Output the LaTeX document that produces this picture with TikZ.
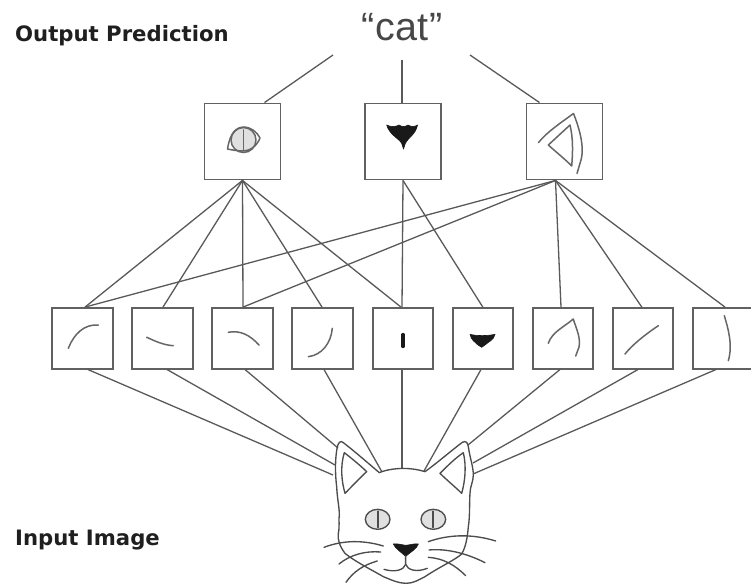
\documentclass[tikz,border=0pt]{standalone}
\usepackage{fontspec}
\usetikzlibrary{calc}
\newfontfamily\lablfont{DejaVu Sans}
\newfontfamily\catfont{Liberation Sans}
\definecolor{edgegray}{gray}{0.38}
\definecolor{eyegray}{gray}{0.88}
\tikzset{
  x=1pt,y=-1pt,
  topbox/.style={draw=edgegray,line width=1.9pt,minimum size=76pt,inner sep=0pt},
  rowbox/.style={draw=edgegray,line width=1.9pt,minimum size=60.5pt,inner sep=0pt},
  link/.style={draw=black!65,line width=1.3pt},
  sketch/.style={draw=black!60,line width=1.5pt,line cap=round,line join=round},
  catline/.style={draw=black!70,line width=1.35pt,line cap=round,line join=round},
  inkblob/.style={fill=black!90,draw=black!90,line width=.6pt,line join=round},
  headline/.style={font=\lablfont\bfseries\fontsize{21.2}{24}\selectfont,text=black!88,anchor=base west,inner sep=0pt},
}
\begin{document}
\begin{tikzpicture}
\useasboundingbox (0,0) rectangle (751,586);
% labels
\node[headline] (outlab) at (15,41.5) {Output Prediction};
\node[headline] (inlab) at (15,545) {Input Image};
\node[font=\catfont\fontsize{39.5}{44}\selectfont,text=black!72,inner sep=0pt,anchor=base] (cat) at (402,40.5) {“\kern1.5pt cat\kern1.5pt”};
% boxes
\node[topbox] (t1) at (242.5,141.5) {};
\node[topbox] (t2) at (403,141.5) {};
\node[topbox] (t3) at (564.5,141.5) {};
\node[rowbox] (r1) at (82.4,338.3) {};
\node[rowbox] (r2) at (162.5,338.3) {};
\node[rowbox] (r3) at (242.5,338.3) {};
\node[rowbox] (r4) at (322.5,338.3) {};
\node[rowbox] (r5) at (403,338.3) {};
\node[rowbox] (r6) at (482.8,338.3) {};
\node[rowbox] (r7) at (563,338.3) {};
\node[rowbox] (r8) at (642.8,338.3) {};
\node[rowbox] (r9) at (723,338.3) {};
% free ends
\coordinate (o1) at (333,55);
\coordinate (o2) at (402,60);
\coordinate (o3) at (470,55);
\coordinate (c1) at (333,475);
\coordinate (c2) at (335,465);
\coordinate (c3) at (338,448);
\coordinate (c4) at (382,472);
\coordinate (c5) at (402,468);
\coordinate (c6) at (424,471);
\coordinate (c7) at (468,445);
\coordinate (c8) at (473,463);
\coordinate (c9) at (473,474);
% output links
\draw[link] (o1) -- ([xshift=22pt]t1.north);
\draw[link] (o2) -- ([xshift=-1pt]t2.north);
\draw[link] (o3) -- ([xshift=-25pt]t3.north);
% top to row
\foreach \r/\sx in {r1/2.6,r2/0.5,r3/0.5,r4/-0.5,r5/-2}
  \draw[link] (t1.south) -- ([xshift=\sx pt]\r.north);
\draw[link] (t2.south) -- ([xshift=-1pt]r5.north);
\draw[link] (t2.south) -- (r6.north);
\draw[link] ([xshift=-9pt]t3.south) -- ([xshift=2.6pt]r1.north);
\draw[link] ([xshift=-9pt]t3.south) -- ([xshift=0.5pt]r3.north);
\draw[link] ([xshift=-9pt]t3.south) -- ([xshift=-2pt]r7.north);
\draw[link] ([xshift=-9pt]t3.south) -- ([xshift=-1pt]r8.north);
\draw[link] ([xshift=-9pt]t3.south) -- ([xshift=2pt]r9.north);
% row to cat
\draw[link] ([xshift=5.5pt]r1.south) -- (c1);
\draw[link] ([xshift=4.5pt]r2.south) -- (c2);
\draw[link] ([xshift=2.5pt]r3.south) -- (c3);
\draw[link] ([xshift=1.5pt]r4.south) -- (c4);
\draw[link] ([xshift=-1pt]r5.south) -- (c5);
\draw[link] ([xshift=-1.8pt]r6.south) -- (c6);
\draw[link] ([xshift=-3pt]r7.south) -- (c7);
\draw[link] ([xshift=-4.8pt]r8.south) -- (c8);
\draw[link] ([xshift=-7pt]r9.south) -- (c9);
% eye in top box 1
\draw[sketch,fill=eyegray] (243.5,140) circle (12.5);
\draw[sketch] (227.5,149) .. controls (229,140) and (232,128) .. (243,127) .. controls (251,127) and (257,132) .. (260,138) .. controls (257,146) and (250,151) .. (243,151) .. controls (238,151) and (232,150) .. (227.5,149) -- cycle;
\draw[sketch,line width=1.8pt] (243.5,130) -- (243.5,150);
% nose in top box 2
\fill[inkblob] (386.7,125) .. controls (390,127) and (396,127) .. (399,125) .. controls (402,127) and (405,127) .. (408,125) .. controls (411,127) and (415,127) .. (417.5,125) .. controls (416,134) and (408,138) .. (405.5,143) -- (403.5,149) -- (401.5,143) .. controls (398,138) and (389,134) .. (386.7,125) -- cycle;
% ear in top box 3
\draw[sketch] (538.3,142.7) .. controls (548,131) and (562,122) .. (573.5,113.5) .. controls (578,125) and (585,145) .. (581,160) -- (577,173.5);
\draw[sketch] (570,125) -- (548.3,145) .. controls (556,152) and (566,160) .. (571.7,166) .. controls (573,150) and (573,138) .. (570,125) -- cycle;
% row glyphs
\draw[sketch] (68.3,348.3) .. controls (74,334) and (84,324) .. (98.3,325);
\draw[sketch] (146.7,337.3) .. controls (155,341) and (163,345) .. (173.3,345.7);
\draw[sketch] (228.3,332.3) .. controls (240,330) and (250,335) .. (259,345);
\draw[sketch] (308.3,356.7) .. controls (322,355) and (331,343) .. (332.3,328.3);
\draw[black!90,line width=3.2pt,line cap=round] (403,334.5) -- (403,346.5);
\fill[inkblob] (470,334.3) .. controls (476,336) and (488,336) .. (495,334.3) .. controls (494,340) and (488,342) .. (485,345) -- (481.7,347.3) -- (478,345) .. controls (475,342) and (471,340) .. (470,334.3) -- cycle;
\draw[sketch] (548.3,343.3) .. controls (552,332) and (564,327) .. (573.3,319) .. controls (576,328) and (581,338) .. (579,347) -- (575.7,356);
\draw[sketch] (625,354) .. controls (633,344) and (646,334) .. (658.3,325.7);
\draw[sketch] (724.3,315.7) .. controls (728,328) and (733,345) .. (728.3,360.7);
% cat
\begin{scope}[shift={(300,430)},scale=0.3333]
\draw[catline] (245,125) .. controls (285,112) and (335,112) .. (375,125)
  .. controls (410,100) and (450,65) .. (487,37) .. controls (498,30) and (504,40) .. (505,50)
  .. controls (510,85) and (520,110) .. (520,135) .. controls (520,155) and (510,170) .. (510,190)
  .. controls (508,220) and (510,260) .. (505,290) .. controls (502,330) and (495,355) .. (485,372)
  .. controls (465,390) and (420,410) .. (375,440) .. controls (355,450) and (340,460) .. (318,460)
  .. controls (295,460) and (275,450) .. (250,440) .. controls (225,425) and (165,395) .. (135,370)
  .. controls (120,350) and (112,330) .. (115,310) .. controls (120,285) and (115,270) .. (118,255)
  .. controls (118,230) and (112,210) .. (110,170) .. controls (105,130) and (105,85) .. (112,50)
  .. controls (115,38) and (122,30) .. (130,38) .. controls (165,65) and (205,100) .. (238,128) -- (245,125);
\draw[catline] (133,68) .. controls (155,85) and (185,110) .. (200,125) .. controls (178,145) and (155,170) .. (135,190) .. controls (125,155) and (120,110) .. (133,68) -- cycle;
\draw[catline] (490,68) .. controls (465,85) and (440,110) .. (420,130) .. controls (440,150) and (465,170) .. (485,190) .. controls (495,155) and (500,110) .. (490,68) -- cycle;
\draw[catline,fill=eyegray] (233,268) ellipse (37 and 30);
\draw[catline,fill=eyegray] (400,268) ellipse (37 and 30);
\draw[catline,line width=1.7pt] (233,244) -- (233,292);
\draw[catline,line width=1.7pt] (400,244) -- (400,292);
\fill[inkblob] (280,342) .. controls (295,340) and (305,345) .. (317,346) .. controls (330,345) and (342,340) .. (355,342) .. controls (352,355) and (330,368) .. (317,379) .. controls (305,368) and (285,355) .. (280,342) -- cycle;
\draw[catline] (317,378) -- (317,403) .. controls (312,420) and (285,428) .. (252,418);
\draw[catline] (317,403) .. controls (322,420) and (350,428) .. (382,415);
\draw[catline] (72,352) .. controls (130,330) and (190,330) .. (250,348);
\draw[catline] (117,402) .. controls (150,375) and (195,362) .. (242,366);
\draw[catline] (138,457) .. controls (160,425) and (190,405) .. (232,393);
\draw[catline] (385,335) .. controls (450,312) and (520,312) .. (587,333);
\draw[catline] (387,360) .. controls (440,355) and (500,370) .. (555,398);
\draw[catline] (385,382) .. controls (430,385) and (465,405) .. (497,437);
\end{scope}
\end{tikzpicture}
\end{document}
